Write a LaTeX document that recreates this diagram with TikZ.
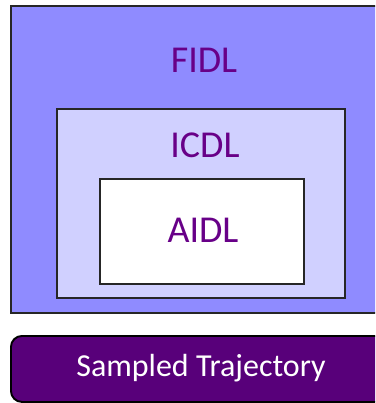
\documentclass[tikz,border=0pt]{standalone}
\usepackage{fontspec}
\setmainfont{Carlito}
\usetikzlibrary{positioning}

\definecolor{fidlfill}{RGB}{143,139,255}
\definecolor{icdlfill}{RGB}{208,208,255}
\definecolor{labelpurple}{RGB}{104,0,136}
\definecolor{trajfill}{RGB}{88,0,122}

\tikzset{
  layerbox/.style={draw=black!85, line width=1.9pt, anchor=north west, inner sep=0pt},
  layerlabel/.style={text=labelpurple, font=\fontsize{38}{40}\selectfont},
}

\begin{document}
\begin{tikzpicture}[x=1pt,y=-1pt]
\useasboundingbox (0,0) rectangle (375,403);
\clip (0,0) rectangle (375,403);

% nested description layers
\node[layerbox, fill=fidlfill, minimum width=380pt, minimum height=307pt] (fidl) at (10,5) {};
\node[layerbox, fill=icdlfill, minimum width=288pt, minimum height=189pt] (icdl) at (56,108) {};
\node[layerbox, fill=white, minimum width=204pt, minimum height=105pt] (aidl) at (99,178) {};

\node[layerlabel] (fidllabel) at (204,60) {FIDL};
\node[layerlabel] (icdllabel) at (205,145) {ICDL};
\node[layerlabel] (aidllabel) at (203,230) {AIDL};

% trajectory bar below
\node[draw=black, line width=1.9pt, fill=trajfill, rounded corners=11pt, anchor=north west,
      minimum width=400pt, minimum height=66pt] (traj) at (10,335) {};
\node[text=white, font=\fontsize{32}{34}\selectfont] (trajlabel) at (201,368) {Sampled Trajectory};

\end{tikzpicture}
\end{document}
